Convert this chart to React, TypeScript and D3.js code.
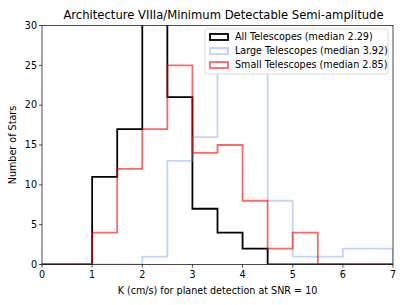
import { useMemo } from "react"
import * as d3 from "d3"

// bin edges of the histograms (K in cm/s)
const binEdges = [0, 0.5, 1, 1.5, 2, 2.5, 3, 3.5, 4, 4.5, 5, 5.5, 6, 6.5, 7]
const allCounts = [0, 0, 11, 17, 33, 21, 7, 4, 2, 0, 0, 0, 0, 0]
const largeCounts = [0, 0, 0, 0, 1, 13, 16, 27, 27, 8, 1, 1, 2, 2]
const smallCounts = [0, 0, 4, 12, 17, 25, 14, 15, 8, 2, 4, 0, 0, 0]
const xTicks = [0, 1, 2, 3, 4, 5, 6, 7]
const yTicks = [0, 5, 10, 15, 20, 25, 30]
const seriesNames = [
  "All Telescopes (median 2.29)",
  "Large Telescopes (median 3.92)",
  "Small Telescopes (median 2.85)",
]

const width = 407
const height = 305
const left = 42
const right = 393
const top = 25.5
const bottom = 264.5
const font = "DejaVu Sans, sans-serif"
const fs = 9.6

const styles = [
  { color: "#000000", opacity: 1 },
  { color: "#6495ed", opacity: 0.4 },
  { color: "#ff0000", opacity: 0.6 },
]

export default function App() {
  const x = useMemo(() => d3.scaleLinear().domain([0, 7]).range([left, right]), [])
  const y = useMemo(() => d3.scaleLinear().domain([0, 30]).range([bottom, top]), [])

  const stepPath = (counts: number[]) => {
    const pts: [number, number][] = [[binEdges[0], 0]]
    counts.forEach((c, i) => pts.push([binEdges[i], c]))
    pts.push([binEdges[binEdges.length - 1], 0])
    const line = d3
      .line<[number, number]>()
      .x((d) => x(d[0]))
      .y((d) => y(d[1]))
      .curve(d3.curveStepAfter)
    return line(pts) || ""
  }

  const series = [allCounts, largeCounts, smallCounts]

  return (
    <div style={{ position: "absolute", left: 0, top: 0 }}>
      <svg width={width} height={height} style={{ display: "block" }} fontFamily={font}>
        <rect width={width} height={height} fill="#fff" />
        <defs>
          <clipPath id="plot">
            <rect x={left} y={top} width={right - left} height={bottom - top} />
          </clipPath>
        </defs>

        <text x={(left + right) / 2 + 6} y={19} textAnchor="middle" fontSize={11.6}>
          Architecture VIIIa/Minimum Detectable Semi-amplitude
        </text>

        <g clipPath="url(#plot)">
          {series.map((counts, i) => (
            <path
              key={i}
              d={stepPath(counts)}
              fill="none"
              stroke={styles[i].color}
              strokeOpacity={styles[i].opacity}
              strokeWidth={1.8}
              strokeLinejoin="miter"
            />
          ))}
        </g>

        {/* spines */}
        <rect x={left} y={top} width={right - left} height={bottom - top} fill="none" stroke="#000" strokeWidth={0.7} />

        {/* x axis */}
        {xTicks.map((t) => (
          <g key={t} transform={`translate(${x(t)},${bottom})`}>
            <line y2={3.1} stroke="#000" strokeWidth={0.7} />
            <text y={13} textAnchor="middle" fontSize={fs}>
              {t}
            </text>
          </g>
        ))}
        <text x={(left + right) / 2} y={294} textAnchor="middle" fontSize={fs}>
          K (cm/s) for planet detection at SNR = 10
        </text>

        {/* y axis */}
        {yTicks.map((t) => (
          <g key={t} transform={`translate(${left},${y(t)})`}>
            <line x2={-3.1} stroke="#000" strokeWidth={0.7} />
            <text x={-5} dy="0.34em" textAnchor="end" fontSize={fs}>
              {t}
            </text>
          </g>
        ))}
        <text
          transform={`translate(16,${(top + bottom) / 2}) rotate(-90)`}
          textAnchor="middle"
          fontSize={fs}
        >
          Number of Stars
        </text>

        {/* legend */}
        <g transform="translate(205,29)">
          <rect width={183} height={45} rx={2} fill="#fff" fillOpacity={0.8} stroke="#cccccc" strokeWidth={0.7} />
          {seriesNames.map((name, i) => (
            <g key={name} transform={`translate(0,${8 + i * 14})`}>
              <rect
                x={5}
                y={-3}
                width={18}
                height={6}
                fill="none"
                stroke={styles[i].color}
                strokeOpacity={styles[i].opacity}
                strokeWidth={1.8}
              />
              <text x={30} dy="0.35em" fontSize={fs}>
                {name}
              </text>
            </g>
          ))}
        </g>
      </svg>
    </div>
  )
}
